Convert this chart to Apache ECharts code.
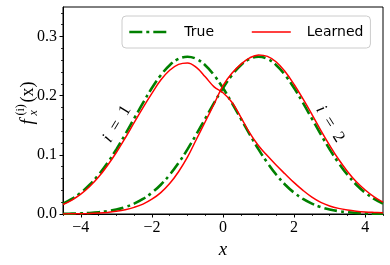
<!DOCTYPE html>
<html><head><meta charset="utf-8">
<script src="https://cdn.jsdelivr.net/npm/echarts@6/dist/echarts.min.js"></script>
<style>html,body{margin:0;padding:0;background:#fff}#c{width:390px;height:265px}</style>
</head><body><div id="c"></div>
<script>
// x sample positions
const xs = [-4.5,-4.25,-4,-3.75,-3.5,-3.25,-3,-2.75,-2.5,-2.25,-2,-1.75,-1.5,-1.25,-1,-0.75,-0.5,-0.25,0,0.25,0.5,0.75,1,1.25,1.5,1.75,2,2.25,2.5,2.75,3,3.25,3.5,3.75,4,4.25,4.5];
// True densities (green dash-dot)
const trueI1 = [0.0175,0.0254,0.0360,0.0495,0.0663,0.0863,0.1093,0.1347,0.1613,0.1879,0.2130,0.2347,0.2516,0.2623,0.2660,0.2623,0.2516,0.2347,0.2130,0.1879,0.1613,0.1347,0.1093,0.0863,0.0663,0.0495,0.0360,0.0254,0.0175,0.0117,0.0076,0.0048,0.0030,0.0018,0.0010,0.0006,0.0003];
const trueI2 = [0.0003,0.0006,0.0010,0.0018,0.0030,0.0048,0.0076,0.0117,0.0175,0.0254,0.0360,0.0495,0.0663,0.0863,0.1093,0.1347,0.1613,0.1879,0.2130,0.2347,0.2516,0.2623,0.2660,0.2623,0.2516,0.2347,0.2130,0.1879,0.1613,0.1347,0.1093,0.0863,0.0663,0.0495,0.0360,0.0254,0.0175];
// Learned densities (red solid)
const learnedI1 = [0.0160,0.0235,0.0335,0.0465,0.0625,0.0820,0.1040,0.1285,0.1545,0.1800,0.2040,0.2265,0.2430,0.2530,0.2555,0.2480,0.2320,0.2150,0.2050,0.1890,0.1640,0.1370,0.1153,0.0983,0.0823,0.0675,0.0530,0.0399,0.0285,0.0197,0.0136,0.0095,0.0067,0.0048,0.0035,0.0027,0.0021];
const learnedI2 = [0.0002,0.0003,0.0005,0.0009,0.0016,0.0027,0.0045,0.0072,0.0112,0.0168,0.0250,0.0362,0.0515,0.0715,0.0960,0.1260,0.1560,0.1860,0.2170,0.2380,0.2530,0.2640,0.2690,0.2665,0.2570,0.2405,0.2190,0.1945,0.1685,0.1415,0.1160,0.0925,0.0720,0.0545,0.0405,0.0290,0.0200];
// ticks
const xMajor = [-4,-2,0,2,4];
const xMinor = [-4.5,-3.5,-3,-2.5,-1.5,-1,-0.5,0.5,1,1.5,2.5,3,3.5,4.5];
const yMajor = [0,0.1,0.2,0.3];
const yMinor = [0.02,0.04,0.06,0.08,0.12,0.14,0.16,0.18,0.22,0.24,0.26,0.28,0.32,0.34];
const legendNames = ['True','Learned'];

const serif = '"Liberation Serif","DejaVu Serif",serif';
const pair = arr => xs.map((x,i)=>[x,arr[i]]);
const fmt = v => (v<0 ? '\u2212'+Math.abs(v) : String(v));

const greenStyle = {color:'#008000', width:2.6, type:[13,4,3,4], cap:'butt'};
const redStyle = {color:'#ff0000', width:1.5};
const annRich = {
  it:{fontFamily:serif, fontStyle:'italic', fontSize:17, fill:'#000', color:'#000'},
  rm:{fontFamily:serif, fontSize:17, fill:'#000', color:'#000'}
};

const chart = echarts.init(document.getElementById('c'));
chart.setOption({
  animation:false,
  backgroundColor:'#fff',
  grid:{left:63,right:7,top:7,bottom:51,show:true,borderColor:'#000',borderWidth:1,backgroundColor:'transparent'},
  legend:{
    data:[
      {name:legendNames[0], lineStyle:greenStyle, itemStyle:{opacity:0}},
      {name:legendNames[1], lineStyle:redStyle, itemStyle:{opacity:0}}
    ],
    left:122, top:16, orient:'horizontal',
    backgroundColor:'rgba(255,255,255,0.85)', borderColor:'#cccccc', borderWidth:1, borderRadius:4,
    padding:[9,7,9,6], itemWidth:39, itemHeight:14, itemGap:37,
    itemStyle:{opacity:0},
    textStyle:{fontFamily:'"DejaVu Sans",sans-serif', fontSize:14, color:'#000', padding:[0,0,0,11]}
  },
  xAxis:[{
    type:'value', min:-4.5, max:4.5, gridIndex:0,
    axisLine:{show:true,onZero:false,lineStyle:{color:'#000',width:1}},
    axisTick:{show:true,customValues:xMajor,length:3.5,inside:false,lineStyle:{color:'#000',width:1}},
    axisLabel:{customValues:xMajor,formatter:fmt,fontFamily:serif,fontSize:16,color:'#000',margin:6},
    splitLine:{show:false},
    name:'x', nameLocation:'middle', nameGap:24,
    nameTextStyle:{fontFamily:serif,fontStyle:'italic',fontSize:19,color:'#000'}
  },{
    type:'value', min:-4.5, max:4.5, gridIndex:0, position:'bottom',
    axisLine:{show:false,onZero:false},
    axisTick:{show:true,customValues:xMinor,length:2,lineStyle:{color:'#000',width:0.8}},
    axisLabel:{show:false}, splitLine:{show:false}
  }],
  yAxis:[{
    type:'value', min:0, max:0.35, gridIndex:0, position:'left',
    axisLine:{show:true,onZero:false,lineStyle:{color:'#000',width:1}},
    axisTick:{show:true,customValues:yMajor,length:3.5,lineStyle:{color:'#000',width:1}},
    axisLabel:{customValues:yMajor,formatter:v=>v.toFixed(1),fontFamily:serif,fontSize:16,color:'#000',margin:6},
    splitLine:{show:false}
  },{
    type:'value', min:0, max:0.35, gridIndex:0, position:'left',
    axisLine:{show:false,onZero:false},
    axisTick:{show:true,customValues:yMinor,length:2,lineStyle:{color:'#000',width:0.8}},
    axisLabel:{show:false}, splitLine:{show:false}
  }],
  series:[
    {name:'True',type:'line',data:pair(trueI1),smooth:0.4,symbol:'none',showSymbol:false,lineStyle:greenStyle,itemStyle:{color:'#008000'},z:2},
    {name:'True',type:'line',data:pair(trueI2),smooth:0.4,symbol:'none',showSymbol:false,lineStyle:greenStyle,itemStyle:{color:'#008000'},z:2},
    {name:'Learned',type:'line',data:pair(learnedI1),smooth:0.4,symbol:'none',showSymbol:false,lineStyle:redStyle,itemStyle:{color:'#ff0000'},z:3},
    {name:'Learned',type:'line',data:pair(learnedI2),smooth:0.4,symbol:'none',showSymbol:false,lineStyle:redStyle,itemStyle:{color:'#ff0000'},z:3}
  ],
  graphic:[
    {type:'group', x:28, y:101.5, rotation:Math.PI/2, children:[
      {type:'text', x:-23, y:0, style:{text:'f', font:'italic 19px '+serif, fill:'#000', verticalAlign:'middle', align:'left'}},
      {type:'text', x:-14, y:-7, style:{text:'(i)', font:'12px '+serif, fill:'#000', verticalAlign:'middle', align:'left'}},
      {type:'text', x:-14, y:6, style:{text:'x', font:'italic 12px '+serif, fill:'#000', verticalAlign:'middle', align:'left'}},
      {type:'text', x:-1, y:0, style:{text:'(x)', font:'18px '+serif, fill:'#000', verticalAlign:'middle', align:'left'}}
    ]},
    {type:'text', x:117, y:124, rotation:59*Math.PI/180, style:{text:'{it|i}{rm|  =  1}', rich:annRich, align:'center', verticalAlign:'middle'}},
    {type:'text', x:330, y:124, rotation:-58*Math.PI/180, style:{text:'{it|i}{rm|  =  2}', rich:annRich, align:'center', verticalAlign:'middle'}}
  ]
});
</script>
</body></html>
